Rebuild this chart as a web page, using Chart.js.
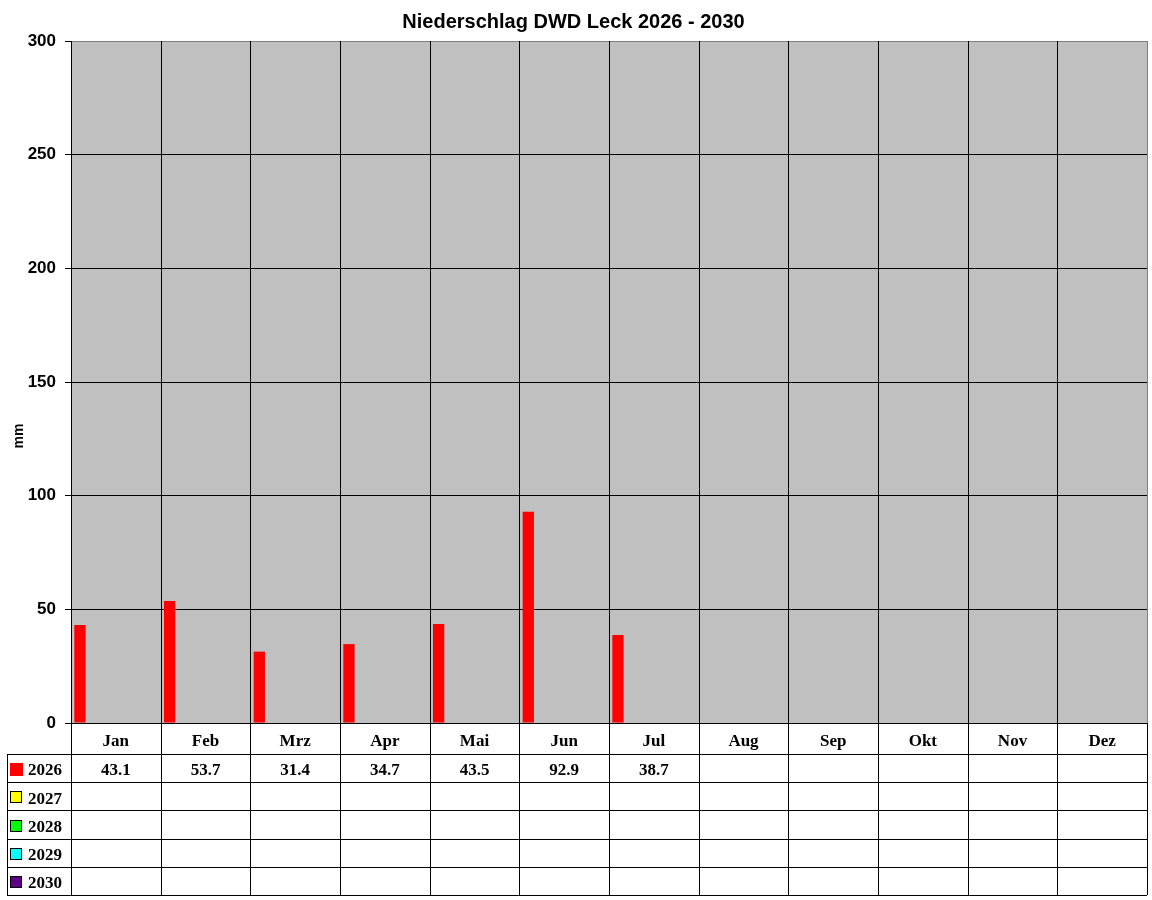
<!DOCTYPE html>
<html>
<head>
<meta charset="utf-8">
<title>Niederschlag DWD Leck 2026 - 2030</title>
<script src="https://cdn.jsdelivr.net/npm/chart.js@4.4.1/dist/chart.umd.min.js"></script>
<style>
  html, body { margin: 0; padding: 0; background: #fff; }
  canvas { display: block; }
</style>
</head>
<body>
<canvas id="chart" width="1152" height="900"></canvas>
<script>
// Monate und Jahresreihen (mm)
const months = ['Jan', 'Feb', 'Mrz', 'Apr', 'Mai', 'Jun', 'Jul', 'Aug', 'Sep', 'Okt', 'Nov', 'Dez'];
const years = ['2026', '2027', '2028', '2029', '2030'];
const rain2026 = [43.1, 53.7, 31.4, 34.7, 43.5, 92.9, 38.7, null, null, null, null, null];
const rain2027 = [null, null, null, null, null, null, null, null, null, null, null, null];
const rain2028 = [null, null, null, null, null, null, null, null, null, null, null, null];
const rain2029 = [null, null, null, null, null, null, null, null, null, null, null, null];
const rain2030 = [null, null, null, null, null, null, null, null, null, null, null, null];
const yTicks = [0, 50, 100, 150, 200, 250, 300];

const seriesValues = [rain2026, rain2027, rain2028, rain2029, rain2030];
const seriesColors = ['#ff0000', '#ffff00', '#00ff00', '#00ffff', '#5e0085'];

const serif = '"Liberation Serif", "Times New Roman", serif';
const sans = '"Liberation Sans", Arial, sans-serif';

// Hintergrund, senkrechte Linien und Datentabelle unter dem Diagramm
const tablePlugin = {
  id: 'dataTable',
  beforeDraw(chart) {
    const { ctx, chartArea: a } = chart;
    ctx.save();
    ctx.fillStyle = '#c0c0c0';
    ctx.fillRect(a.left, a.top, a.right - a.left, a.bottom - a.top);
    ctx.restore();
  },
  afterDraw(chart) {
    const { ctx, chartArea: a } = chart;
    const x = chart.scales.x;
    const catW = (a.right - a.left) / months.length;
    const headerBottom = a.bottom + 31;
    const tableBottom = 895;
    const rowH = (tableBottom - headerBottom) / years.length;
    const tableLeft = 7;

    ctx.save();
    ctx.lineWidth = 1;
    ctx.strokeStyle = '#000';

    // senkrechte Linien (Monatsgrenzen), durch Diagramm und Tabelle
    for (let i = 0; i <= months.length; i++) {
      const px = Math.round(x.getPixelForValue(i) - catW / 2) + 0.5;
      const isEdge = i === months.length;
      ctx.beginPath();
      ctx.strokeStyle = isEdge ? '#808080' : '#000';
      ctx.moveTo(px, a.top);
      ctx.lineTo(px, a.bottom);
      ctx.stroke();
      ctx.strokeStyle = '#000';
      ctx.beginPath();
      ctx.moveTo(px, a.bottom);
      ctx.lineTo(px, tableBottom);
      ctx.stroke();
    }
    ctx.beginPath();
    ctx.moveTo(tableLeft + 0.5, headerBottom);
    ctx.lineTo(tableLeft + 0.5, tableBottom);
    ctx.stroke();

    // waagerechte Linien
    for (let r = 0; r <= years.length; r++) {
      const py = Math.round(headerBottom + r * rowH) + 0.5;
      ctx.beginPath();
      ctx.moveTo(tableLeft, py);
      ctx.lineTo(a.right, py);
      ctx.stroke();
    }

    // Monatsnamen
    ctx.fillStyle = '#000';
    ctx.font = 'bold 17px ' + serif;
    ctx.textAlign = 'center';
    ctx.textBaseline = 'middle';
    months.forEach((m, i) => {
      ctx.fillText(m, x.getPixelForValue(i), (a.bottom + headerBottom) / 2 + 3);
    });

    // Jahreszeilen mit Legendenfeld und Werten
    years.forEach((yr, r) => {
      const cy = headerBottom + r * rowH + rowH / 2 + 3;
      const size = r === 0 ? 13 : 12;
      ctx.fillStyle = seriesColors[r];
      ctx.fillRect(10, Math.round(cy - 2 - size / 2), size, size);
      if (r > 0) {
        ctx.strokeStyle = '#000';
        ctx.strokeRect(10.5, Math.round(cy - 2 - size / 2) + 0.5, size - 1, size - 1);
      }
      ctx.fillStyle = '#000';
      ctx.textAlign = 'left';
      ctx.fillText(yr, 28, cy);
      ctx.textAlign = 'center';
      seriesValues[r].forEach((v, i) => {
        if (v !== null) ctx.fillText(v.toFixed(1), x.getPixelForValue(i), cy);
      });
    });

    // Achsentitel
    ctx.save();
    ctx.translate(19, 436);
    ctx.rotate(-Math.PI / 2);
    ctx.font = 'bold 14px ' + sans;
    ctx.textAlign = 'center';
    ctx.textBaseline = 'middle';
    ctx.fillText('mm', 0, 0);
    ctx.restore();

    ctx.restore();
  }
};

new Chart(document.getElementById('chart'), {
  type: 'bar',
  data: {
    labels: months,
    datasets: years.map((yr, i) => ({
      label: yr,
      data: seriesValues[i],
      backgroundColor: seriesColors[i],
      borderWidth: 0,
      categoryPercentage: 1,
      barPercentage: 0.63
    }))
  },
  options: {
    responsive: false,
    animation: false,
    devicePixelRatio: 1,
    layout: { padding: { left: 0, right: 5, top: 0, bottom: 177 } },
    plugins: {
      legend: { display: false },
      tooltip: { enabled: false },
      title: {
        display: true,
        text: 'Niederschlag DWD Leck 2026 - 2030',
        color: '#000',
        font: { family: sans, size: 20, weight: 'bold' },
        padding: { top: 10, bottom: 7 }
      }
    },
    scales: {
      x: {
        display: false,
        offset: true
      },
      y: {
        min: 0,
        max: 300,
        afterFit(scale) { scale.width = 71; },
        afterBuildTicks(scale) { scale.ticks = yTicks.map(v => ({ value: v })); },
        border: { display: true, color: '#000', width: 1 },
        grid: {
          color: ctx => (ctx.tick && ctx.tick.value === 300 ? '#808080' : '#000'),
          tickColor: '#000',
          tickLength: 6,
          lineWidth: 1
        },
        ticks: {
          color: '#000',
          padding: 9,
          font: { family: sans, size: 17, weight: 'bold' }
        }
      }
    }
  },
  plugins: [tablePlugin]
});
</script>
</body>
</html>
